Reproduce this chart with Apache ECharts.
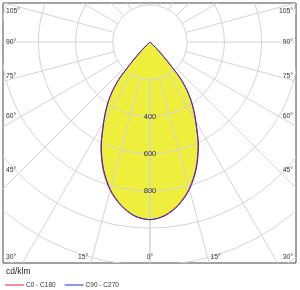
<!DOCTYPE html>
<html>
<head>
<meta charset="utf-8">
<script src="https://cdn.jsdelivr.net/npm/echarts@6/dist/echarts.min.js"></script>
<style>
html, body { margin: 0; padding: 0; background: #fff; }
#chart { width: 300px; height: 290px; }
</style>
</head>
<body>
<div id="chart"></div>
<script>
// angles from nadir (deg) and intensities (cd/klm)
var angles = [0, 5, 10, 15, 20, 25, 30, 32.5, 35, 37.5, 40, 42.5, 45, 47.5, 50, 55];
var c0   = [955, 934, 886, 816, 722, 612, 490, 437, 384, 324, 249, 129, 60, 19, 3, 0];
var c180 = [955, 940, 894, 826, 734, 624, 500, 446, 392, 332, 256, 134, 63, 21, 3, 0];
var c90  = [955, 937, 890, 820, 727, 617, 494, 441, 388, 328, 252, 131, 61, 20, 3, 0];
var c270 = [955, 938, 891, 822, 729, 619, 496, 442, 389, 329, 253, 132, 62, 20, 3, 0];

// polar grid
var rings = [200, 400, 600, 800, 1000, 1200, 1400, 1600];
var ringLabels = ['400', '600', '800'];
var rayAngles = [0, 15, 30, 45, 60, 75, 90, 105, 120, 135, 150, 165, 180];
var sideLabels = [105, 90, 75, 60, 45, 30];
var bottomLabels = [15, 0];

var rad = Math.PI / 180;

//左半边 + 右半边
function curve(left, right) {
	var pts = [];
	for (var i = angles.length - 1; i >= 0; i--) {
		var t = angles[i] * rad;
		pts.push([-left[i] * Math.sin(t), -left[i] * Math.cos(t)]);
	}
	for (var j = 1; j < angles.length; j++) {
		var a = angles[j] * rad;
		pts.push([right[j] * Math.sin(a), -right[j] * Math.cos(a)]);
	}
	return pts;
}

var redPts = curve(c180, c0);
var bluePts = curve(c270, c90);

var chart = echarts.init(document.getElementById('chart'));

var gridColor = '#d4d4d4';
var txtFont = 'Liberation Sans, Arial, sans-serif';

option = {
	animation: false,
	title: {
		text: 'cd/klm',
		left: 6,
		top: 267,
		padding: 0,
		textStyle: { fontSize: 8.5, fontWeight: 'normal', color: '#222', fontFamily: txtFont }
	},
	legend: {
		left: 5,
		top: 281.5,
		padding: 0,
		icon: 'rect',
		itemWidth: 19,
		itemHeight: 1,
		itemGap: 9,
		textStyle: { fontSize: 6.5, color: '#333', fontFamily: txtFont, padding: [0, 0, 0, -3] },
		data: ['C0 - C180', 'C90 - C270']
	},
	grid: {
		show: true,
		left: 3,
		top: 3,
		right: 4,
		bottom: 27,
		borderColor: '#444',
		borderWidth: 1,
		backgroundColor: '#fff'
	},
	xAxis: { type: 'value', min: -790, max: 785, show: false },
	yAxis: { type: 'value', min: -1188, max: 210, show: false },
	series: [{
		// 光分布填充
		type: 'custom',
		z: 1,
		clip: true,
		silent: true,
		data: [[0, 0]],
		renderItem: function(params, api) {
			var p = bluePts.map(function(d) { return api.coord(d); });
			return {
				type: 'polygon',
				shape: { points: p, smooth: 0.3 },
				style: { fill: '#eeee3c', stroke: 'none' }
			};
		}
	}, {
		// 极坐标网格
		type: 'custom',
		z: 2,
		clip: true,
		silent: true,
		data: [[0, 0]],
		renderItem: function(params, api) {
			var c = api.coord([0, 0]);
			var k = api.size([1000, 0])[0] / 1000;
			var kids = [];
			rings.forEach(function(r) {
				kids.push({
					type: 'circle',
					shape: { cx: c[0], cy: c[1], r: r * k },
					style: { fill: 'none', stroke: gridColor, lineWidth: 1 }
				});
			});
			rayAngles.forEach(function(a) {
				[-1, 1].forEach(function(s) {
					var t = a * rad;
					var dx = s * Math.sin(t), dy = Math.cos(t);
					kids.push({
						type: 'line',
						shape: {
							x1: c[0] + dx * 200 * k, y1: c[1] + dy * 200 * k,
							x2: c[0] + dx * 2000 * k, y2: c[1] + dy * 2000 * k
						},
						style: { stroke: gridColor, lineWidth: 1 }
					});
				});
			});
			return { type: 'group', children: kids };
		}
	}, {
		name: 'C0 - C180',
		type: 'line',
		z: 3,
		data: redPts,
		smooth: 0.3,
		symbol: 'none',
		lineStyle: { color: '#e3213b', width: 1 },
		itemStyle: { color: '#e3213b' }
	}, {
		name: 'C90 - C270',
		type: 'line',
		z: 4,
		data: bluePts,
		smooth: 0.3,
		symbol: 'none',
		lineStyle: { color: '#2a2ad0', width: 1 },
		itemStyle: { color: '#2a2ad0' }
	}, {
		// 标签
		type: 'custom',
		z: 5,
		clip: false,
		silent: true,
		data: [[0, 0]],
		renderItem: function(params, api) {
			var c = api.coord([0, 0]);
			var kids = [];
			ringLabels.forEach(function(l) {
				var p = api.coord([0, -Number(l)]);
				kids.push({
					type: 'text',
					style: { text: l, x: p[0], y: p[1], align: 'center', verticalAlign: 'middle',
						fontSize: 7.5, fontFamily: txtFont, fill: '#333' }
				});
			});
			var colX = 22, botY = 257;
			sideLabels.forEach(function(a) {
				var t = a * rad;
				var y = c[1] + (c[0] - colX) * Math.cos(t) / Math.sin(t);
				y = Math.max(11, Math.min(botY, y));
				kids.push({
					type: 'text',
					style: { text: a + '°', x: 6, y: y, align: 'left', verticalAlign: 'middle',
						fontSize: 6.8, fontFamily: txtFont, fill: '#333' }
				});
				kids.push({
					type: 'text',
					style: { text: a + '°', x: 293, y: y, align: 'right', verticalAlign: 'middle',
						fontSize: 6.8, fontFamily: txtFont, fill: '#333' }
				});
			});
			bottomLabels.forEach(function(a) {
				var off = (botY - c[1]) * Math.tan(a * rad);
				if (a === 0) {
					kids.push({
						type: 'text',
						style: { text: a + '°', x: c[0], y: botY, align: 'center', verticalAlign: 'middle',
							fontSize: 6.8, fontFamily: txtFont, fill: '#333' }
					});
				} else {
					kids.push({
						type: 'text',
						style: { text: a + '°', x: c[0] - off - 4, y: botY, align: 'right', verticalAlign: 'middle',
							fontSize: 6.8, fontFamily: txtFont, fill: '#333' }
					});
					kids.push({
						type: 'text',
						style: { text: a + '°', x: c[0] + off + 3, y: botY, align: 'left', verticalAlign: 'middle',
							fontSize: 6.8, fontFamily: txtFont, fill: '#333' }
					});
				}
			});
			return { type: 'group', children: kids };
		}
	}]
};
chart.setOption(option);
</script>
</body>
</html>
